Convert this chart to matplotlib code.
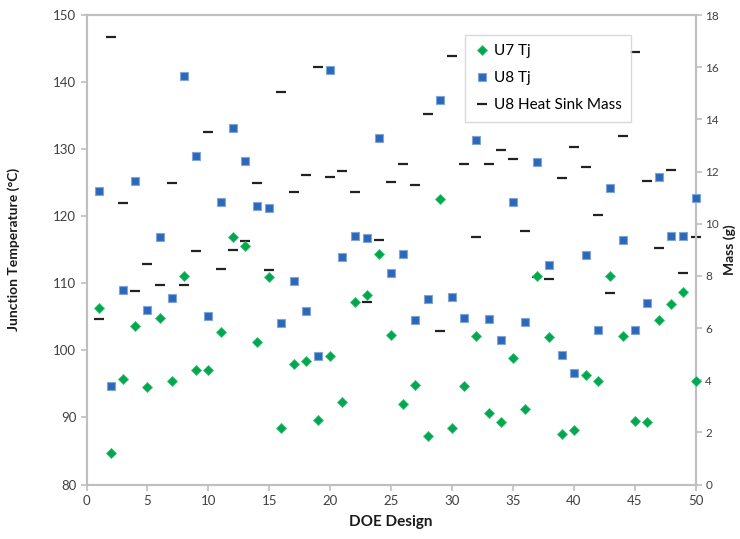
import matplotlib
matplotlib.use("Agg")
import matplotlib.pyplot as plt
import numpy as np

plt.rcParams['font.family'] = ['Lato', 'DejaVu Sans']

designs = list(range(1, 51))
u7_tj = [106.3, 84.7, 95.7, 103.6, 94.6, 104.9, 95.5, 111.1, 97.1, 97.1,
         102.8, 116.9, 115.5, 101.2, 111.0, 88.4, 98.0, 98.4, 89.7, 99.2,
         92.3, 107.2, 108.3, 114.4, 102.3, 92.0, 94.8, 87.3, 122.6, 88.5,
         94.7, 102.2, 90.6, 89.4, 98.9, 91.2, 111.1, 102.0, 87.6, 88.1,
         96.4, 95.4, 111.1, 102.2, 89.5, 89.4, 104.5, 106.9, 108.7, 95.4]
u8_tj = [123.7, 94.7, 109.0, 125.2, 106.0, 116.9, 107.8, 140.9, 129.0, 105.2,
         122.2, 133.1, 128.3, 121.6, 121.3, 104.1, 110.3, 105.9, 99.2, 141.8,
         114.0, 117.1, 116.8, 131.6, 111.6, 114.4, 104.6, 107.7, 137.4, 108.0,
         104.9, 131.4, 104.7, 101.6, 122.2, 104.3, 128.1, 112.8, 99.3, 96.7,
         114.3, 103.1, 124.2, 116.5, 103.1, 107.0, 125.8, 117.1, 117.0, 122.8]
u8_mass = [6.36, 17.15, 10.79, 7.41, 8.44, 7.64, 11.58, 7.66, 8.97, 13.5,
           8.28, 9.0, 9.32, 11.58, 8.21, 15.06, 11.2, 11.88, 16.0, 11.81,
           12.03, 11.2, 7.01, 9.39, 11.61, 12.29, 11.49, 14.19, 5.9, 16.45,
           12.29, 9.51, 12.29, 12.84, 12.5, 9.74, 7.94, 7.87, 11.75, 12.96,
           12.16, 10.34, 7.33, 13.37, 16.58, 11.65, 9.07, 12.07, 8.11, 9.51]

x_ticks = list(range(0, 51, 5))
left_ticks = list(range(80, 151, 10))
right_ticks = list(range(0, 19, 2))

fig = plt.figure(figsize=(7.4, 5.39), dpi=100)
ax = fig.add_axes([0.117, 0.101, 0.823, 0.871])
ax2 = ax.twinx()

spine_col = '#bfbfbf'
tick_col = '#404040'

h1, = ax.plot(designs, u7_tj, linestyle='none', marker='D', markersize=4.6,
              color='#00a651', markeredgecolor='#3cc070', markeredgewidth=0.6,
              label='U7 Tj', clip_on=False, zorder=4)
h2, = ax.plot(designs, u8_tj, linestyle='none', marker='s', markersize=6.0,
              color='#2d68b8', markeredgecolor='#7fa6dc', markeredgewidth=0.8,
              label='U8 Tj', clip_on=False, zorder=3)
h3, = ax2.plot(designs, u8_mass, linestyle='none', marker='_', markersize=7,
               markeredgewidth=1.6, color='#222222', label='U8 Heat Sink Mass',
               clip_on=False)

ax.set_xlim(0, 50)
ax.set_ylim(80, 150)
ax2.set_ylim(0, 18)
ax.set_xticks(x_ticks)
ax.set_yticks(left_ticks)
ax2.set_yticks(right_ticks)

for a in (ax, ax2):
    for s in a.spines.values():
        s.set_color(spine_col)
        s.set_linewidth(1.5)
    a.tick_params(colors=spine_col, labelcolor=tick_col, labelsize=9.5, length=4, width=1.2)
ax2.tick_params(labelsize=8.5, pad=3)

ax.set_xlabel('DOE Design', fontsize=11, fontweight='bold', color='#1a1a1a', labelpad=6)
ax.set_ylabel('Junction Temperature (°C)', fontsize=10, fontweight='bold', color='#1a1a1a')
ax2.set_ylabel('Mass (g)', fontsize=10, fontweight='bold', color='#1a1a1a', rotation=90)
ax.yaxis.set_label_coords(-0.109, 0.5)
ax2.yaxis.set_label_coords(1.045, 0.5)

leg = ax.legend(handles=[h1, h2, h3], loc='upper left', bbox_to_anchor=(0.622, 0.957),
                fontsize=11, frameon=True, fancybox=False, borderpad=0.6,
                handletextpad=0.3, handlelength=1.0, labelspacing=0.85, borderaxespad=0)
leg.get_frame().set_edgecolor('#d0d0d0')
leg.get_frame().set_linewidth(1.0)
ax.set_zorder(ax2.get_zorder() + 1)
ax.patch.set_visible(False)

fig.savefig('out.png', dpi=100)
